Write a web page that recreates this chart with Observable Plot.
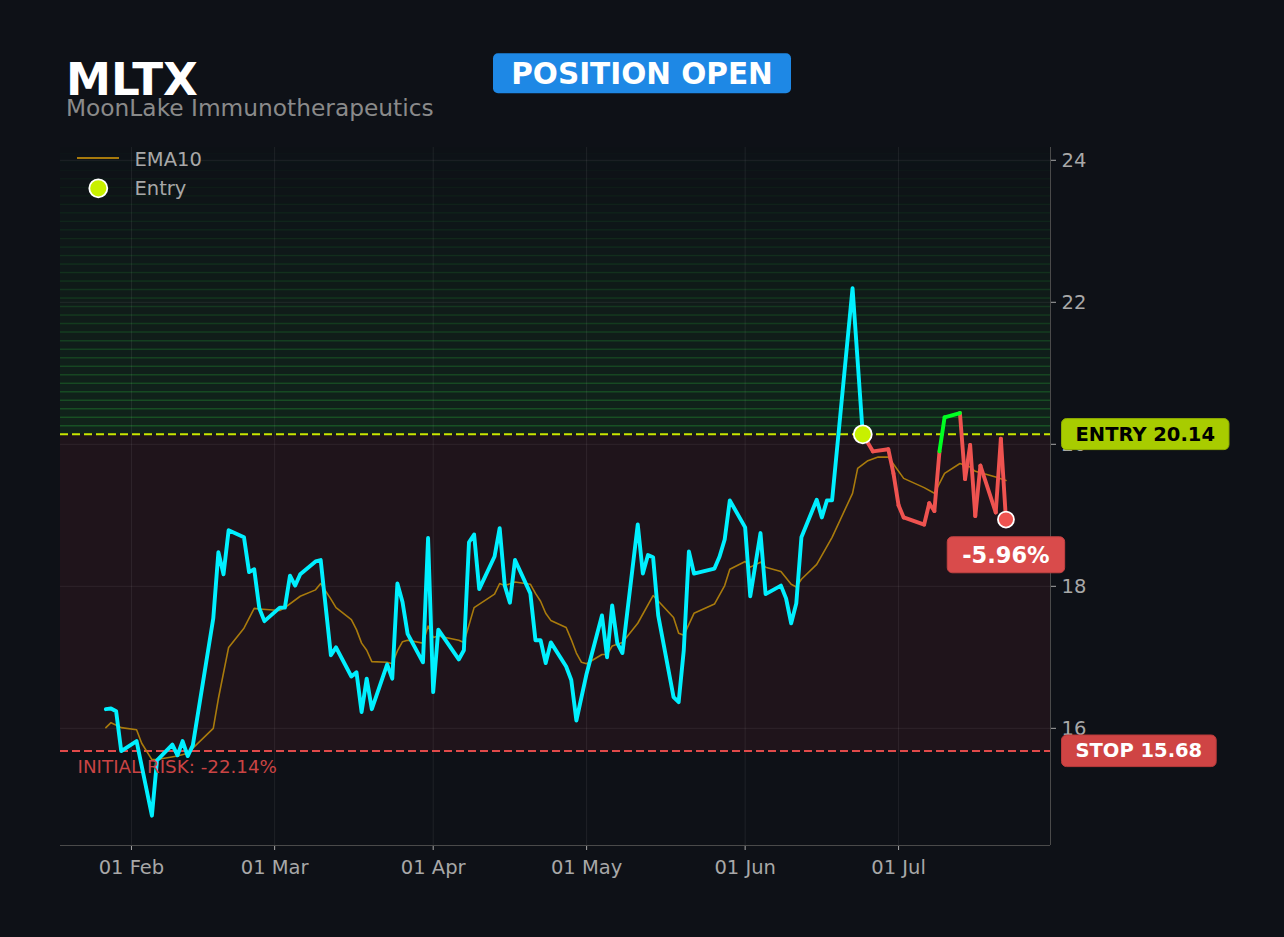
<!DOCTYPE html>
<html><head><meta charset="utf-8">
<script src="https://cdn.jsdelivr.net/npm/d3@7"></script>
<script src="https://cdn.jsdelivr.net/npm/@observablehq/plot@0.6"></script>
<style>
html,body{margin:0;padding:0;background:#0e1117;overflow:hidden;}
#chart{position:relative;width:1284px;height:937px;}
</style></head><body><div id="chart"></div>
<script>
const ticker = "MLTX";
const companyName = "MoonLake Immunotherapeutics";
const statusLabel = "POSITION OPEN";
const entryPrice = 20.14;
const stopPrice = 15.68;
const entryDate = "2025-06-24";

const priceDates = ["2025-01-27","2025-01-28","2025-01-29","2025-01-30","2025-02-02","2025-02-05","2025-02-06","2025-02-09","2025-02-10","2025-02-11","2025-02-12","2025-02-13","2025-02-17","2025-02-18","2025-02-19","2025-02-20","2025-02-23","2025-02-24","2025-02-25","2025-02-26","2025-02-27","2025-03-02","2025-03-03","2025-03-04","2025-03-05","2025-03-06","2025-03-09","2025-03-10","2025-03-12","2025-03-13","2025-03-16","2025-03-17","2025-03-18","2025-03-19","2025-03-20","2025-03-23","2025-03-24","2025-03-25","2025-03-26","2025-03-27","2025-03-30","2025-03-31","2025-04-01","2025-04-02","2025-04-06","2025-04-07","2025-04-08","2025-04-09","2025-04-10","2025-04-13","2025-04-14","2025-04-15","2025-04-16","2025-04-17","2025-04-20","2025-04-21","2025-04-22","2025-04-23","2025-04-24","2025-04-27","2025-04-28","2025-04-29","2025-05-01","2025-05-04","2025-05-05","2025-05-06","2025-05-07","2025-05-08","2025-05-11","2025-05-12","2025-05-13","2025-05-14","2025-05-15","2025-05-18","2025-05-19","2025-05-20","2025-05-21","2025-05-22","2025-05-26","2025-05-27","2025-05-28","2025-05-29","2025-06-01","2025-06-02","2025-06-04","2025-06-05","2025-06-08","2025-06-09","2025-06-10","2025-06-11","2025-06-12","2025-06-15","2025-06-16","2025-06-17","2025-06-18","2025-06-22","2025-06-24","2025-06-26","2025-06-29","2025-06-30","2025-07-01","2025-07-02","2025-07-06","2025-07-07","2025-07-08","2025-07-09","2025-07-10","2025-07-13","2025-07-14","2025-07-15","2025-07-16","2025-07-17","2025-07-20","2025-07-21","2025-07-22"];
const priceClose = [16.27,16.28,16.24,15.68,15.82,14.77,15.55,15.77,15.62,15.82,15.61,15.76,17.55,18.48,18.17,18.79,18.69,18.20,18.24,17.69,17.51,17.70,17.70,18.15,18.01,18.17,18.35,18.37,17.03,17.14,16.73,16.79,16.23,16.70,16.27,16.90,16.70,18.04,17.78,17.33,16.93,18.68,16.51,17.39,16.97,17.10,18.62,18.73,17.96,18.42,18.82,18.01,17.77,18.37,17.90,17.24,17.24,16.92,17.21,16.87,16.68,16.11,16.77,17.59,17.00,17.73,17.20,17.06,18.87,18.18,18.44,18.41,17.59,16.44,16.37,17.10,18.49,18.18,18.25,18.42,18.66,19.21,18.83,17.86,18.75,17.89,18.01,17.83,17.48,17.76,18.69,19.22,18.97,19.21,19.21,22.20,20.14,19.90,19.93,19.59,19.14,18.97,18.87,19.17,19.06,19.90,20.38,20.44,19.51,19.99,18.99,19.70,19.04,20.08,18.94];

const emaDates = ["2025-01-27","2025-01-28","2025-01-30","2025-02-02","2025-02-03","2025-02-05","2025-02-06","2025-02-10","2025-02-12","2025-02-17","2025-02-18","2025-02-20","2025-02-23","2025-02-25","2025-02-26","2025-03-02","2025-03-03","2025-03-06","2025-03-09","2025-03-10","2025-03-12","2025-03-13","2025-03-16","2025-03-17","2025-03-18","2025-03-19","2025-03-20","2025-03-23","2025-03-24","2025-03-25","2025-03-26","2025-03-27","2025-03-30","2025-03-31","2025-04-01","2025-04-02","2025-04-06","2025-04-07","2025-04-09","2025-04-13","2025-04-14","2025-04-15","2025-04-17","2025-04-20","2025-04-21","2025-04-22","2025-04-23","2025-04-24","2025-04-27","2025-04-28","2025-04-29","2025-04-30","2025-05-01","2025-05-04","2025-05-05","2025-05-06","2025-05-08","2025-05-11","2025-05-14","2025-05-18","2025-05-19","2025-05-20","2025-05-22","2025-05-26","2025-05-28","2025-05-29","2025-06-01","2025-06-02","2025-06-04","2025-06-05","2025-06-08","2025-06-10","2025-06-11","2025-06-12","2025-06-15","2025-06-18","2025-06-22","2025-06-23","2025-06-25","2025-06-27","2025-06-29","2025-07-02","2025-07-06","2025-07-08","2025-07-10","2025-07-13","2025-07-15","2025-07-16","2025-07-20","2025-07-22"];
const emaValues = [16.01,16.08,16.01,15.98,15.79,15.56,15.56,15.61,15.65,16.00,16.42,17.14,17.41,17.69,17.68,17.66,17.70,17.86,17.95,18.04,17.82,17.70,17.53,17.39,17.20,17.10,16.94,16.93,16.91,17.09,17.22,17.24,17.20,17.44,17.28,17.30,17.24,17.21,17.70,17.89,18.04,18.01,18.06,18.03,17.90,17.79,17.62,17.52,17.42,17.25,17.06,16.93,16.91,17.04,17.04,17.16,17.21,17.48,17.87,17.56,17.34,17.31,17.62,17.75,18.01,18.24,18.35,18.27,18.34,18.27,18.21,18.03,17.99,18.10,18.31,18.69,19.31,19.66,19.77,19.82,19.82,19.52,19.39,19.31,19.59,19.73,19.68,19.62,19.54,19.49];

const monthTicks = ["2025-02-01","2025-03-01","2025-04-01","2025-05-01","2025-06-01","2025-07-01"];
const yTicks = [16, 18, 20, 22, 24];

const parse = d3.utcParse("%Y-%m-%d");
const price = priceDates.map((d, i) => ({date: parse(d), close: priceClose[i]}));
const ema = emaDates.map((d, i) => ({date: parse(d), value: emaValues[i]}));
const entryIdx = priceDates.indexOf(entryDate);
const before = price.slice(0, entryIdx + 1);
const after = price.slice(entryIdx);
const segs = d3.pairs(after).map(([a, b]) => ({x1: a.date, y1: a.close, x2: b.date, y2: b.close}));
const last = price[price.length - 1];
const pnl = (last.close - entryPrice) / entryPrice * 100;
const risk = (stopPrice - entryPrice) / entryPrice * 100;

const xDomain = [new Date(Date.UTC(2025, 0, 18, 3)), new Date(Date.UTC(2025, 6, 30, 17))];
const yDomain = [14.35, 24.18];

const bandStep = 0.12, bandCount = 34;
const bands = d3.range(bandCount).map(i => ({y1: entryPrice + i * bandStep, y2: entryPrice + (i + 1) * bandStep, a: 1 - i / bandCount}));
const zone = [{x1: xDomain[0], x2: xDomain[1], y1: stopPrice, y2: entryPrice}];

const plot = Plot.plot({
  width: 1284, height: 937,
  marginTop: 147, marginRight: 234, marginBottom: 92, marginLeft: 60,
  style: {background: "#0e1117", color: "#a8a8a8", fontFamily: "DejaVu Sans, sans-serif", fontSize: "19.5px"},
  x: {type: "utc", domain: xDomain, ticks: monthTicks.map(parse), tickFormat: d3.utcFormat("%d %b"), tickSize: 5, tickPadding: 10, label: null},
  y: {domain: yDomain, ticks: yTicks, axis: "right", tickSize: 5, tickPadding: 6, label: null},
  marks: [
    Plot.rect(zone, {x1: "x1", x2: "x2", y1: "y1", y2: "y2", fill: "#dc3c46", fillOpacity: 0.085}),
    Plot.rect(bands, {x1: () => xDomain[0], x2: () => xDomain[1], y1: "y1", y2: "y2", fill: "#2ecc40", fillOpacity: d => 0.1 * d.a, clip: true}),
    Plot.ruleY(bands, {y: "y2", stroke: "#2ecc40", strokeOpacity: d => 0.28 * d.a, strokeWidth: 1.5, clip: true}),
    Plot.ruleX(monthTicks.map(parse), {stroke: "#ffffff", strokeOpacity: 0.07}),
    Plot.ruleY(yTicks, {stroke: "#ffffff", strokeOpacity: 0.07}),
    Plot.ruleX([xDomain[1]], {stroke: "#4a4a4a"}),
    Plot.ruleY([yDomain[0]], {stroke: "#4a4a4a"}),
    Plot.ruleY([stopPrice], {stroke: "#e04a4a", strokeWidth: 2, strokeDasharray: "8,4"}),
    Plot.ruleY([entryPrice], {stroke: "#c8e600", strokeWidth: 2, strokeDasharray: "8,4"}),
    Plot.line(ema, {x: "date", y: "value", stroke: "#b8860b", strokeWidth: 1.6, strokeOpacity: 0.9}),
    Plot.line(before, {x: "date", y: "close", stroke: "#00f0ff", strokeWidth: 3.9}),
    Plot.link(segs.filter(s => !(s.y2 > entryPrice)), {x1: "x1", y1: "y1", x2: "x2", y2: "y2", stroke: "#ef5350", strokeWidth: 3.9, strokeLinecap: "round"}),
    Plot.link(segs.filter(s => s.y2 > entryPrice), {x1: "x1", y1: "y1", x2: "x2", y2: "y2", stroke: "#00ff22", strokeWidth: 3.9, strokeLinecap: "round"}),
    Plot.dot([price[entryIdx]], {x: "date", y: "close", r: 9, fill: "#c8f000", stroke: "white", strokeWidth: 1.8}),
    Plot.dot([last], {x: "date", y: "close", r: 8, fill: "#ef5350", stroke: "white", strokeWidth: 1.8}),
    Plot.text([risk], {y: () => stopPrice, frameAnchor: "left", dx: 17, dy: 16.5, textAnchor: "start", text: d => `INITIAL RISK: ${d.toFixed(2)}%`, fill: "#c94444", fontSize: 18.3}),
    Plot.text([entryPrice], {y: d => d, frameAnchor: "right", dx: 25, textAnchor: "start", text: d => `ENTRY ${d.toFixed(2)}`, fill: "#000000", fontWeight: "bold", fontSize: 19.5}),
    Plot.text([stopPrice], {y: d => d, frameAnchor: "right", dx: 25, textAnchor: "start", text: d => `STOP ${d.toFixed(2)}`, fill: "#ffffff", fontWeight: "bold", fontSize: 19.5}),
    Plot.text([last], {x: "date", y: "close", dy: 36, text: () => `${pnl.toFixed(2)}%`, fill: "#ffffff", fontWeight: "bold", fontSize: 22.5})
  ]
});

document.getElementById("chart").appendChild(plot);

// badge backgrounds behind label texts
function badge(label, fill, stroke, padX, padY) {
  d3.select(plot).selectAll("text").filter(function() { return this.textContent === label; }).each(function() {
    const b = this.getBBox();
    d3.select(this.parentNode).insert("rect", () => this)
      .attr("transform", this.getAttribute("transform"))
      .attr("x", b.x - padX).attr("y", b.y - padY)
      .attr("width", b.width + 2 * padX).attr("height", b.height + 2 * padY)
      .attr("rx", 5).attr("fill", fill).attr("stroke", stroke).attr("stroke-width", 1);
  });
}
badge(`ENTRY ${entryPrice.toFixed(2)}`, "#a8cc00", "#8fae00", 14, 4);
badge(`STOP ${stopPrice.toFixed(2)}`, "#cf4444", "#b83a3a", 14, 4.3);
badge(`${pnl.toFixed(2)}%`, "#d94b4b", "#c44242", 15, 5);

// header and legend
const svg = d3.select(plot);
const head = svg.append("g").attr("font-family", "DejaVu Sans, sans-serif").attr("text-anchor", "start");
head.append("text").attr("x", 66).attr("y", 94.5).attr("font-size", 45.2).attr("font-weight", "bold").attr("fill", "#ffffff").text(ticker);
head.append("text").attr("x", 66).attr("y", 116).attr("font-size", 23.3).attr("fill", "#8a8a8a").text(companyName);
head.append("rect").attr("x", 493).attr("y", 53.3).attr("width", 298).attr("height", 40).attr("rx", 5).attr("fill", "#1e88e5");
head.append("text").attr("x", 642).attr("y", 83.5).attr("text-anchor", "middle").attr("font-size", 29.5).attr("font-weight", "bold").attr("fill", "#ffffff").text(statusLabel);
head.append("line").attr("x1", 77).attr("x2", 119).attr("y1", 158).attr("y2", 158).attr("stroke", "#b8860b").attr("stroke-width", 2).attr("stroke-opacity", 0.9);
head.append("circle").attr("cx", 98.3).attr("cy", 188.3).attr("r", 9).attr("fill", "#c8f000").attr("stroke", "#ffffff").attr("stroke-width", 1.8);
head.append("text").attr("x", 134.5).attr("y", 165.5).attr("font-size", 19.5).attr("fill", "#a8a8a8").text("EMA10");
head.append("text").attr("x", 134.5).attr("y", 195).attr("font-size", 19.5).attr("fill", "#a8a8a8").text("Entry");
</script></body></html>
